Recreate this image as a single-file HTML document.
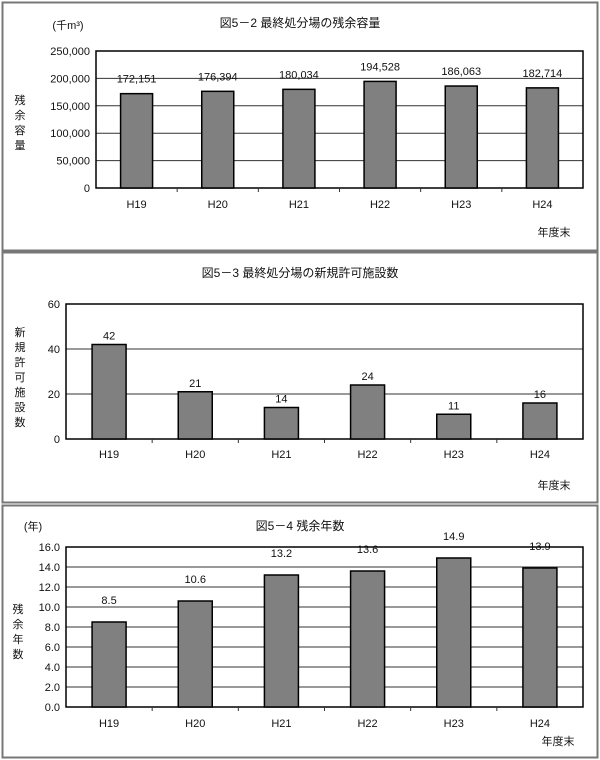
<!DOCTYPE html>
<html><head><meta charset="utf-8">
<style>
html,body{margin:0;padding:0;background:#fff;}
svg{display:block;font-family:"Liberation Sans","Noto Sans CJK JP",sans-serif;}
</style></head>
<body>
<svg id="c" width="600" height="760" viewBox="0 0 600 760">
<rect x="0" y="0" width="600" height="760" fill="#fff"/>
<rect x="2.5" y="2.5" width="595" height="248" fill="none" stroke="#777" stroke-width="2"/>
<rect x="2.5" y="252.5" width="595" height="250" fill="none" stroke="#777" stroke-width="2"/>
<rect x="2.5" y="505.5" width="595" height="252" fill="none" stroke="#777" stroke-width="2"/>
</svg>
<script>
const categories = ["H19","H20","H21","H22","H23","H24"];
const capacityValues = [172151,176394,180034,194528,186063,182714];
const capacityLabels = ["172,151","176,394","180,034","194,528","186,063","182,714"];
const capacityTicks = [0,50000,100000,150000,200000,250000];
const capacityTickLabels = ["0","50,000","100,000","150,000","200,000","250,000"];
const facilityValues = [42,21,14,24,11,16];
const facilityTicks = [0,20,40,60];
const yearsValues = [8.5,10.6,13.2,13.6,14.9,13.9];
const yearsTicks = [0,2,4,6,8,10,12,14,16];

const NS="http://www.w3.org/2000/svg";
const svg=document.getElementById('c');
function mk(tag,attrs,parent){const e=document.createElementNS(NS,tag);for(const k in attrs)e.setAttribute(k,attrs[k]);(parent||svg).appendChild(e);return e;}
function txt(s,x,y,opts,parent){const e=mk('text',Object.assign({x:x,y:y,'font-size':11,fill:'#111','text-anchor':'middle'},opts||{}),parent);e.textContent=s;return e;}

function chart(cfg){
  const g=mk('g',{});
  
  
  const {L,R,T,B,max}=cfg;
  const ys=v=>B-(v/max)*(B-T);
  const cw=(R-L)/categories.length;
  const xs=i=>L+cw*(i+0.5);
  // title
  const t=txt(cfg.title,300,cfg.titleY,{'font-size':12},g);
  
  
  // gridlines + tick labels
  cfg.ticks.forEach((v,i)=>{
    const y=ys(v);
    if(v>0&&v<max){const l=mk('line',{x1:L,x2:R,y1:y,y2:y,stroke:'#333','stroke-width':1},g);
      
      }
    const tl=txt(cfg.tickLabels[i],L-6,y+4,{'text-anchor':'end'},g);
    
    
  });
  // plot border
  const pb=mk('rect',{x:L,y:T,width:R-L,height:B-T,fill:'none',stroke:'#000','stroke-width':1.5},g);
  
  
  // category ticks
  for(let i=1;i<categories.length;i++){const x=L+cw*i;
    const tk=mk('line',{x1:x,x2:x,y1:B,y2:B+4,stroke:'#333','stroke-width':1},g);
    
    }
  // bars
  cfg.values.forEach((v,i)=>{
    const y=ys(v),x=xs(i)-cfg.bw/2;
    const r=mk('rect',{x:x,y:y,width:cfg.bw,height:B-y,fill:'#808080',stroke:'#000','stroke-width':1.5},g);
    
    
    const vl=txt(cfg.labels[i],xs(i),y-cfg.labOff,{},g);
    
    
    const cl=txt(categories[i],xs(i),cfg.catY,{},g);
    
    
  });
  // y-axis title vertical
  const yl=txt('',cfg.yTitleX,0,{},g);
  
  
  [...cfg.yTitle].forEach((ch,i)=>{const ts=mk('tspan',{x:cfg.yTitleX,y:cfg.yTitleY+i*cfg.yStep},yl);ts.textContent=ch;});
  const xt=txt('年度末',cfg.xTitleX,cfg.xTitleY,{},g);
  
  
  if(cfg.unit){const u=txt(cfg.unit,cfg.unitX,cfg.unitY,{},g);
    
    }
}

chart({name:'capacity-chart',title:'図5－2  最終処分場の残余容量',titleY:27,L:96,R:583,T:51,B:188,max:250000,
  ticks:capacityTicks,tickLabels:capacityTickLabels,values:capacityValues,labels:capacityLabels,bw:32,labOff:11,catY:208,
  yTitle:'残余容量',yTitleX:20,yTitleY:104,yStep:15,xTitleX:554,xTitleY:236,unit:'(千m³)',unitX:68,unitY:29});
chart({name:'new-facilities-chart',title:'図5－3  最終処分場の新規許可施設数',titleY:277,L:66,R:583,T:304,B:439,max:60,
  ticks:facilityTicks,tickLabels:facilityTicks.map(String),values:facilityValues,labels:facilityValues.map(String),bw:34,labOff:5,catY:458,
  yTitle:'新規許可施設数',yTitleX:20,yTitleY:336,yStep:15,xTitleX:554,xTitleY:489});
chart({name:'remaining-years-chart',title:'図5－4  残余年数',titleY:530,L:66,R:583,T:547,B:707,max:16,
  ticks:yearsTicks,tickLabels:yearsTicks.map(v=>v.toFixed(1)),values:yearsValues,labels:yearsValues.map(v=>v.toFixed(1)),bw:34,labOff:18,catY:727,
  yTitle:'残余年数',yTitleX:18,yTitleY:613,yStep:15,xTitleX:558,xTitleY:745,unit:'(年)',unitX:33,unitY:530});
</script>
</body></html>
